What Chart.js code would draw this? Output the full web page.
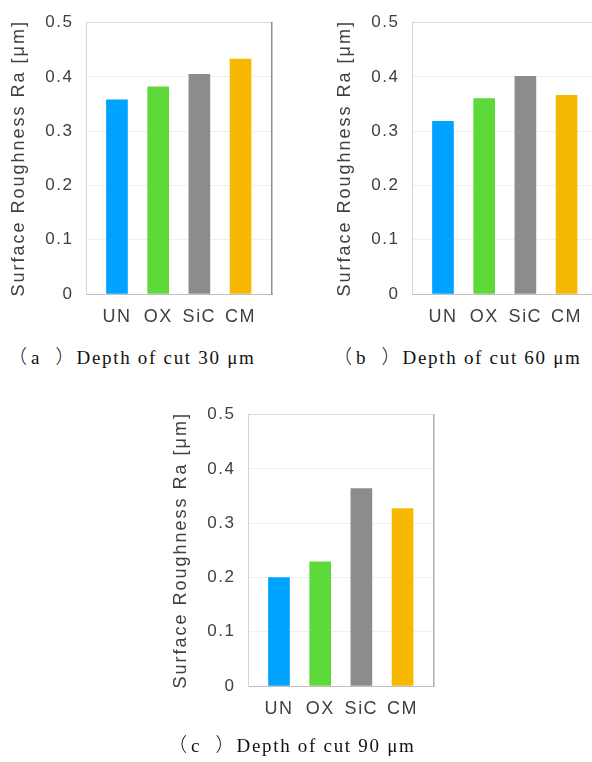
<!DOCTYPE html>
<html><head><meta charset="utf-8">
<script src="https://cdn.jsdelivr.net/npm/chart.js@4/dist/chart.umd.min.js"></script>
<style>
html,body{margin:0;padding:0;background:#fff;}
body{width:592px;height:762px;overflow:hidden;position:relative;}
.box{position:absolute;width:296px;height:340px;}
canvas{display:block;}
.cap{position:absolute;font-family:'Liberation Serif','Times New Roman',serif;font-size:19px;line-height:20px;letter-spacing:1.7px;color:#111;white-space:nowrap;}
.cap .p{font-family:'Noto Sans CJK JP','Liberation Serif',serif;letter-spacing:0;font-weight:300;}
.cap .l{margin-left:4px;letter-spacing:0;}
.cap .r{margin-left:16px;margin-right:2px;}
</style></head>
<body>
<div class="box" style="left:0;top:0"><canvas id="ca" width="296" height="340"></canvas></div>
<div class="box" style="left:326px;top:0"><canvas id="cb" width="296" height="340"></canvas></div>
<div class="box" style="left:162px;top:392px"><canvas id="cc" width="296" height="340"></canvas></div>
<div class="cap" style="left:8px;top:346px"><span class="p">（</span><span class="l">a</span><span class="p r">）</span>Depth of cut 30 μm</div>
<div class="cap" style="left:333px;top:346px"><span class="p">（</span><span class="l">b</span><span class="p r">）</span>Depth of cut 60 μm</div>
<div class="cap" style="left:168px;top:734px"><span class="p">（</span><span class="l">c</span><span class="p r">）</span>Depth of cut 90 μm</div>
<script>
const categories = ['UN', 'OX', 'SiC', 'CM'];
const depth30 = [0.358, 0.382, 0.405, 0.433];
const depth60 = [0.318, 0.360, 0.401, 0.366];
const depth90 = [0.200, 0.229, 0.364, 0.327];
const yTicks = [0, 0.1, 0.2, 0.3, 0.4, 0.5];
const yTitle = 'Surface Roughness Ra [μm]';
const barColors = ['#00a2ff', '#5dd93a', '#8c8c8c', '#f6b800'];

const BaseLinear = Chart.LinearScale || (Chart.scales && Chart.scales.LinearScale) || Chart.registry.getScale('linear');
class SpacedLinearScale extends BaseLinear {
  drawLabels(chartArea) {
    const c = this.ctx; c.save();
    c.letterSpacing = (this.options.ticks.letterSpacing || 0) + 'px';
    super.drawLabels(chartArea); c.restore();
  }
  drawTitle() {
    const c = this.ctx; c.save();
    c.letterSpacing = (this.options.title.letterSpacing || 0) + 'px';
    super.drawTitle(); c.restore();
  }
}
SpacedLinearScale.id = 'spacedLinear';
SpacedLinearScale.defaults = BaseLinear.defaults;
Chart.register(SpacedLinearScale);

const sansFamily = "'Liberation Sans', Arial, sans-serif";
const textColor = '#404040';

function makeChart(id, values, rightColor) {
  const points = categories.map((c, i) => ({ x: i, y: values[i] }));
  return new Chart(document.getElementById(id), {
    type: 'bar',
    data: {
      datasets: [{
        data: points,
        backgroundColor: barColors,
        borderWidth: 0,
        barThickness: 21,
        xAxisID: 'x',
        yAxisID: 'y'
      }]
    },
    options: {
      responsive: false,
      animation: false,
      events: [],
      layout: { padding: { left: 6, right: 24, top: 16, bottom: 0 } },
      plugins: { legend: { display: false }, tooltip: { enabled: false } },
      scales: {
        x: {
          type: 'spacedLinear', position: 'bottom', offset: false,
          min: -0.752, max: 3.763,
          grid: { display: true, offset: false, drawOnChartArea: false, drawTicks: false },
          border: { color: '#bfbfbf', width: 1 },
          ticks: {
            letterSpacing: 1.5, padding: 12, color: textColor,
            font: { family: sansFamily, size: 18 },
            autoSkip: false, maxRotation: 0, minRotation: 0, includeBounds: false,
            callback: (v) => (categories[v] !== undefined ? categories[v] : '')
          },
          afterBuildTicks: (s) => { s.ticks = categories.map((c, i) => ({ value: i })); },
          afterFit: (s) => { s.height = 46; }
        },
        y: {
          type: 'spacedLinear', position: 'left',
          min: 0, max: 0.5,
          afterBuildTicks: (s) => { s.ticks = yTicks.map(v => ({ value: v })); },
          ticks: {
            letterSpacing: 1.5, padding: 12.5, color: textColor,
            font: { family: sansFamily, size: 17 },
            callback: (v) => (Math.abs(v) < 1e-9 ? '0' : v.toFixed(1))
          },
          grid: {
            drawTicks: false, lineWidth: 1,
            color: (ctx) => {
              const v = Math.round((ctx.tick ? ctx.tick.value : 0) * 10);
              if (v === 0) return '#bfbfbf';
              if (v === 5) return '#d9d9d9';
              return '#efefef';
            }
          },
          border: { color: '#d6d6d6', width: 1 },
          title: {
            display: true, text: yTitle, color: textColor, letterSpacing: 2,
            font: { family: sansFamily, size: 18 }, padding: { top: 2, bottom: 4 }
          },
          afterFit: (s) => { s.width = 80; }
        },
        yr: {
          type: 'linear', position: 'right', min: 0, max: 0.5,
          ticks: { display: false },
          grid: { drawOnChartArea: false, drawTicks: false },
          border: { color: rightColor, width: 1.5 },
          afterFit: (s) => { s.width = 0; }
        }
      }
    }
  });
}

makeChart('ca', depth30, '#8f8f8f');
makeChart('cb', depth60, '#d9d9d9');
makeChart('cc', depth90, '#b0b0b0');
</script>
</body></html>
